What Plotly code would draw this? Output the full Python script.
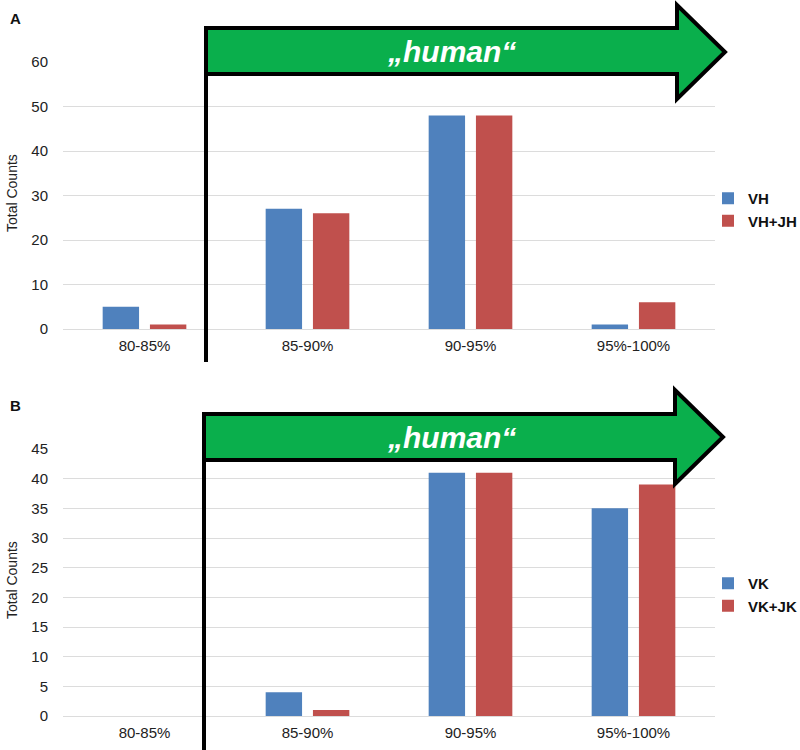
import plotly.graph_objects as go

categories = ["80-85%", "85-90%", "90-95%", "95%-100%"]
vh = [5, 27, 48, 1]
vh_jh = [1, 26, 48, 6]
vk = [0, 4, 41, 35]
vk_jk = [0, 1, 41, 39]
ticks_a = [0, 10, 20, 30, 40, 50, 60]
ticks_b = [0, 5, 10, 15, 20, 25, 30, 35, 40, 45]

W, H = 800, 750
BLUE = "#4f81bd"
RED = "#c0504d"
GREEN = "#0aaf4c"
FONT = "Liberation Sans, Arial, sans-serif"

def px(x):
    return x / W

def py(y):
    return 1 - y / H

fig = go.Figure()
fig.add_trace(go.Bar(x=categories, y=vh, name="VH", marker_color=BLUE,
                     xaxis="x", yaxis="y", legend="legend"))
fig.add_trace(go.Bar(x=categories, y=vh_jh, name="VH+JH", marker_color=RED,
                     xaxis="x", yaxis="y", legend="legend"))
fig.add_trace(go.Bar(x=categories, y=vk, name="VK", marker_color=BLUE,
                     xaxis="x2", yaxis="y2", legend="legend2"))
fig.add_trace(go.Bar(x=categories, y=vk_jk, name="VK+JK", marker_color=RED,
                     xaxis="x2", yaxis="y2", legend="legend2"))

xdom = [px(63), px(715)]
tickfont = dict(size=15, color="#222", family=FONT)
common_x = dict(showgrid=False, showline=False, ticks="", tickfont=tickfont,
                ticklabelstandoff=6, automargin=False, zeroline=False)
common_y = dict(gridcolor="#dcdcdc", gridwidth=1, zeroline=True, zerolinecolor="#dcdcdc",
                zerolinewidth=1, ticklabelstandoff=14, showline=False, ticks="",
                tickfont=tickfont, automargin=False)
fig.update_layout(
    template="none",
    width=W, height=H,
    margin=dict(l=0, r=0, t=0, b=0, pad=0, autoexpand=False),
    paper_bgcolor="white", plot_bgcolor="white",
    barmode="group", bargap=0.42, bargroupgap=0.23,
    font=dict(family=FONT, color="#222"),
    xaxis=dict(domain=xdom, anchor="y", **common_x),
    yaxis=dict(domain=[py(329), py(62)], range=[0, 60], tickvals=ticks_a,
               anchor="x", **common_y),
    xaxis2=dict(domain=xdom, anchor="y2", **common_x),
    yaxis2=dict(domain=[py(716), py(449)], range=[0, 45], tickvals=ticks_b,
                anchor="x2", **common_y),
    legend=dict(x=px(708), y=py(182), xanchor="left", yanchor="top",
                font=dict(size=15, family=FONT, color="#111", weight="bold"),
                itemwidth=30, tracegroupgap=0, bgcolor="rgba(0,0,0,0)", borderwidth=0),
    legend2=dict(x=px(708), y=py(567), xanchor="left", yanchor="top",
                 font=dict(size=15, family=FONT, color="#111", weight="bold"),
                 itemwidth=30, tracegroupgap=0, bgcolor="rgba(0,0,0,0)", borderwidth=0),
)

def arrow(x0, top, bot, hx, htop, hbot, tip):
    pts = [(x0, top), (hx, top), (hx, htop), (tip, (htop + hbot) / 2),
           (hx, hbot), (hx, bot), (x0, bot)]
    return "M " + " L ".join(f"{px(a):.5f},{py(b):.5f}" for a, b in pts) + " Z"

shapes = []
# Panel A arrow
shapes.append(dict(type="line", xref="paper", yref="paper", x0=px(206), x1=px(206),
                   y0=py(27), y1=py(362), line=dict(color="black", width=4)))
shapes.append(dict(type="path", xref="paper", yref="paper",
                   path=arrow(206, 28, 74, 677, 5, 99, 725),
                   fillcolor=GREEN, line=dict(color="black", width=4)))
# Panel B arrow
shapes.append(dict(type="line", xref="paper", yref="paper", x0=px(204), x1=px(204),
                   y0=py(413), y1=py(750), line=dict(color="black", width=4)))
shapes.append(dict(type="path", xref="paper", yref="paper",
                   path=arrow(204, 414, 460, 675, 390, 484, 723),
                   fillcolor=GREEN, line=dict(color="black", width=4)))
fig.update_layout(shapes=shapes)

ann = []
for label, yy in (("A", 18), ("B", 405)):
    ann.append(dict(text=label, x=px(8), y=py(yy), xref="paper", yref="paper",
                    xanchor="left", yanchor="middle", showarrow=False,
                    font=dict(size=15, family=FONT, color="#111", weight="bold")))
for yy in (193, 580):
    ann.append(dict(text="Total Counts", x=px(12), y=py(yy), xref="paper", yref="paper",
                    xanchor="center", yanchor="middle", textangle=-90, showarrow=False,
                    font=dict(size=14, family=FONT, color="#222")))
for yy in (51, 437):
    ann.append(dict(text="<b><i>„human“</i></b>", x=px(451), y=py(yy), xref="paper",
                    yref="paper", xanchor="center", yanchor="middle", showarrow=False,
                    font=dict(size=30, family=FONT, color="white")))
fig.update_layout(annotations=ann)

fig.write_html(
    "out.html",
    config={"displayModeBar": False},
    post_script="document.body.style.margin='0';document.body.style.padding='0';"
                "document.documentElement.style.overflow='hidden';",
)
